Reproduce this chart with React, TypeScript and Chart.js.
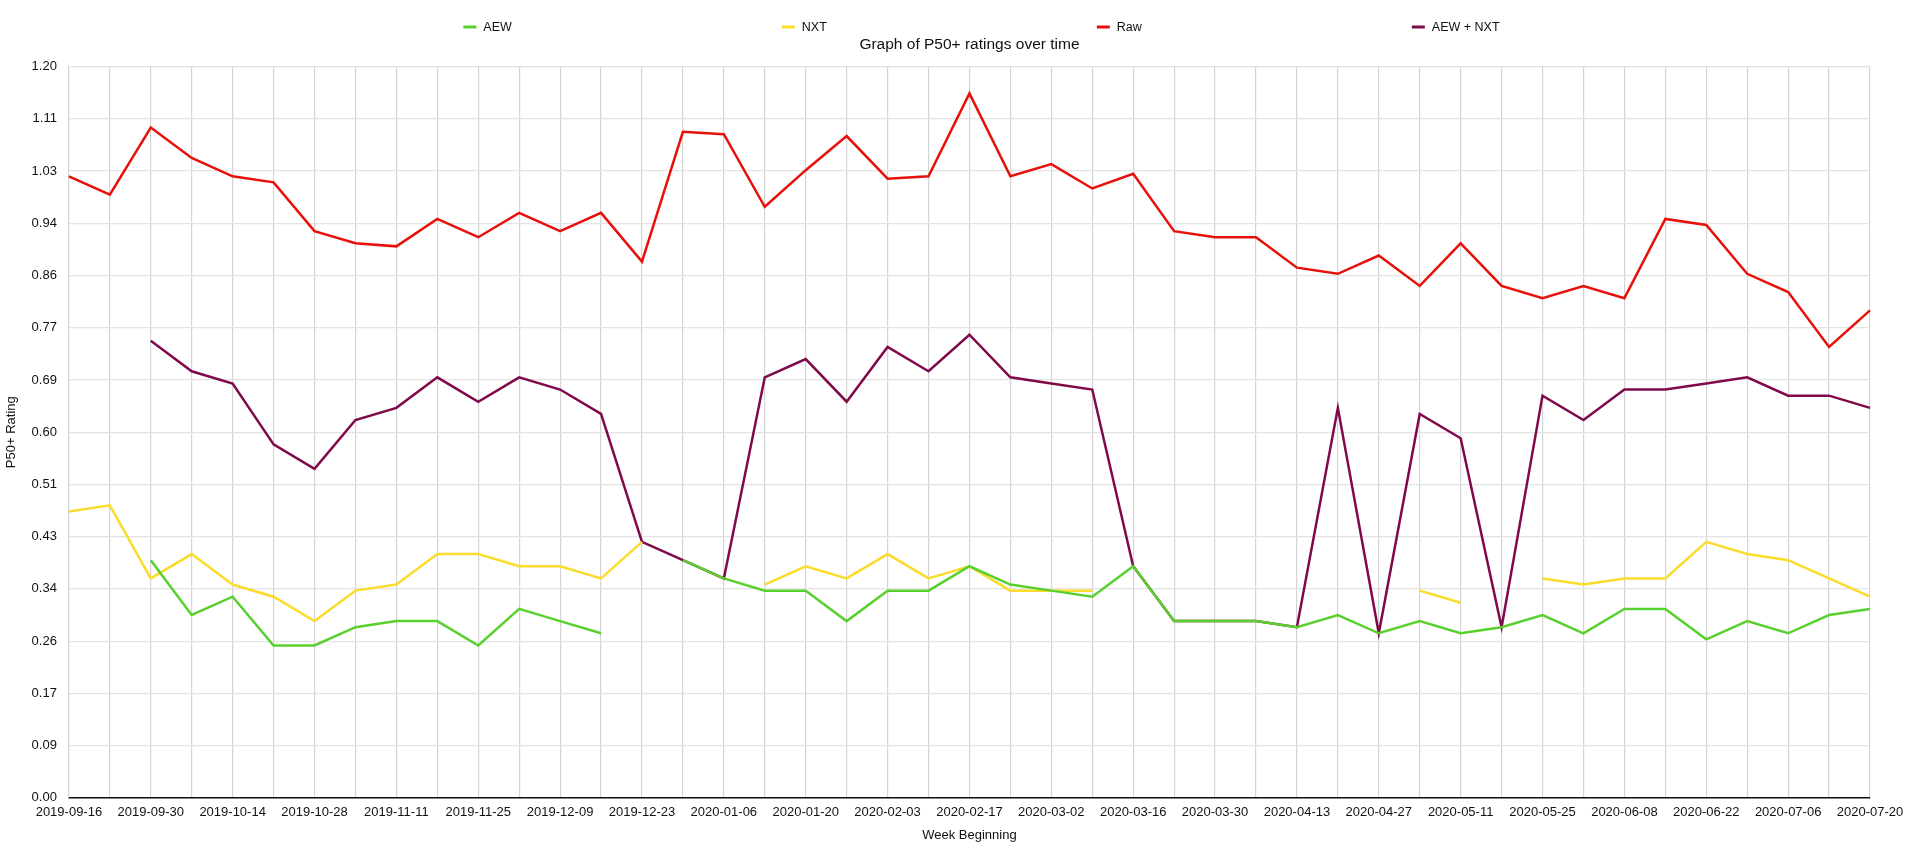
import { useEffect, useRef } from "react"
import { Chart, registerables } from "chart.js"
import type { Plugin } from "chart.js"

Chart.register(...registerables)

const FONT = "'Liberation Sans', Arial, Helvetica, sans-serif"

// weeks, 2019-09-16 .. 2020-07-20
const weeks = [
  "2019-09-16", "2019-09-23", "2019-09-30", "2019-10-07", "2019-10-14", "2019-10-21",
  "2019-10-28", "2019-11-04", "2019-11-11", "2019-11-18", "2019-11-25", "2019-12-02",
  "2019-12-09", "2019-12-16", "2019-12-23", "2019-12-30", "2020-01-06", "2020-01-13",
  "2020-01-20", "2020-01-27", "2020-02-03", "2020-02-10", "2020-02-17", "2020-02-24",
  "2020-03-02", "2020-03-09", "2020-03-16", "2020-03-23", "2020-03-30", "2020-04-06",
  "2020-04-13", "2020-04-20", "2020-04-27", "2020-05-04", "2020-05-11", "2020-05-18",
  "2020-05-25", "2020-06-01", "2020-06-08", "2020-06-15", "2020-06-22", "2020-06-29",
  "2020-07-06", "2020-07-13", "2020-07-20",
]

const aew = [
  null, null, 0.39, 0.30, 0.33, 0.25, 0.25, 0.28, 0.29, 0.29, 0.25, 0.31,
  0.29, 0.27, null, 0.39, 0.36, 0.34, 0.34, 0.29, 0.34, 0.34, 0.38, 0.35,
  0.34, 0.33, 0.38, 0.29, 0.29, 0.29, 0.28, 0.30, 0.27, 0.29, 0.27, 0.28,
  0.30, 0.27, 0.31, 0.31, 0.26, 0.29, 0.27, 0.30, 0.31,
]

const nxt = [
  0.47, 0.48, 0.36, 0.40, 0.35, 0.33, 0.29, 0.34, 0.35, 0.40, 0.40, 0.38,
  0.38, 0.36, 0.42, null, null, 0.35, 0.38, 0.36, 0.40, 0.36, 0.38, 0.34,
  0.34, 0.34, null, null, null, null, null, 0.34, null, 0.34, 0.32, null,
  0.36, 0.35, 0.36, 0.36, 0.42, 0.40, 0.39, 0.36, 0.33,
]

const raw = [
  1.02, 0.99, 1.10, 1.05, 1.02, 1.01, 0.93, 0.91, 0.905, 0.95, 0.92, 0.96,
  0.93, 0.96, 0.88, 1.093, 1.089, 0.97, 1.03, 1.086, 1.016, 1.02, 1.156, 1.02,
  1.04, 1.00, 1.024, 0.93, 0.92, 0.92, 0.87, 0.86, 0.89, 0.84, 0.91, 0.84,
  0.82, 0.84, 0.82, 0.95, 0.94, 0.86, 0.83, 0.74, 0.80,
]

const aewPlusNxt = [
  null, null, 0.75, 0.70, 0.68, 0.58, 0.54, 0.62, 0.64, 0.69, 0.65, 0.69,
  0.67, 0.63, 0.42, 0.39, 0.36, 0.69, 0.72, 0.65, 0.74, 0.70, 0.76, 0.69,
  0.68, 0.67, 0.38, 0.29, 0.29, 0.29, 0.28, 0.64, 0.27, 0.63, 0.59, 0.28,
  0.66, 0.62, 0.67, 0.67, 0.68, 0.69, 0.66, 0.66, 0.64,
]

const yMin = 0
const yMax = 1.2
const yTickCount = 15

// legend drawn as one wide row above the title
const legendRow: Plugin<"line"> = {
  id: "legendRow",
  afterDraw(chart) {
    const { ctx, chartArea } = chart
    const sets = chart.data.datasets
    const gap = 270
    ctx.save()
    ctx.font = `12.5px ${FONT}`
    ctx.textBaseline = "middle"
    ctx.textAlign = "left"
    const widths = sets.map((ds) => 13 + 7 + ctx.measureText(String(ds.label)).width)
    const total = widths.reduce((a, b) => a + b, 0) + gap * (sets.length - 1)
    let x = (chartArea.left + chartArea.right) / 2 + 12 - total / 2
    const y = 27
    sets.forEach((ds, i) => {
      ctx.fillStyle = ds.borderColor as string
      ctx.fillRect(x, y - 1.5, 13, 3)
      ctx.fillStyle = "#111"
      ctx.fillText(String(ds.label), x + 20, y + 1)
      x += widths[i] + gap
    })
    ctx.restore()
  },
}

function RatingsChart() {
  const chartRef = useRef<HTMLCanvasElement>(null)
  const chartInstance = useRef<Chart | null>(null)

  useEffect(() => {
    if (!chartRef.current) return
    if (chartInstance.current) chartInstance.current.destroy()

    const ctx = chartRef.current.getContext("2d")
    if (!ctx) return

    const line = (label: string, data: (number | null)[], color: string) => ({
      label,
      data,
      borderColor: color,
      backgroundColor: color,
      borderWidth: 2.5,
      pointRadius: 0,
      pointHoverRadius: 0,
      tension: 0,
      spanGaps: false,
    })

    chartInstance.current = new Chart(ctx, {
      type: "line",
      data: {
        labels: weeks,
        datasets: [
          line("AEW", aew, "#58d12e"),
          line("NXT", nxt, "#f9dc2c"),
          line("Raw", raw, "#e8100a"),
          line("AEW + NXT", aewPlusNxt, "#80094a"),
        ],
      },
      options: {
        animation: false,
        responsive: true,
        maintainAspectRatio: false,
        layout: {
          padding: { top: 25, left: 2, right: 50, bottom: 2 },
        },
        plugins: {
          legend: { display: false },
          tooltip: { enabled: false },
          title: {
            display: true,
            text: "Graph of P50+ ratings over time",
            fullSize: false,
            color: "#111",
            font: { family: FONT, size: 15.5, weight: "normal" },
            padding: { top: 10, bottom: 13 },
          },
        },
        scales: {
          x: {
            grid: { color: "#d4d4d4", lineWidth: 1.2, drawTicks: false },
            border: { color: "#111", width: 1.5 },
            ticks: {
              color: "#111",
              font: { family: FONT, size: 13 },
              padding: 7,
              autoSkip: false,
              maxRotation: 0,
              minRotation: 0,
              callback: (_v, i) => (i % 2 === 0 ? weeks[i] : ""),
            },
            title: {
              display: true,
              text: "Week Beginning",
              color: "#111",
              font: { family: FONT, size: 13 },
              padding: { top: 0, bottom: 3 },
            },
          },
          y: {
            min: yMin,
            max: yMax,
            grid: { color: "#e3e3e3", lineWidth: 1.2, drawTicks: false },
            border: { color: "#d4d4d4" },
            ticks: {
              count: yTickCount,
              color: "#111",
              font: { family: FONT, size: 13 },
              padding: 12,
              callback: (v) => Number(v).toFixed(2),
            },
            title: {
              display: true,
              text: "P50+ Rating",
              color: "#111",
              font: { family: FONT, size: 13 },
              padding: { top: 2, bottom: 0 },
            },
          },
        },
      },
      plugins: [legendRow],
    })

    return () => {
      if (chartInstance.current) {
        chartInstance.current.destroy()
        chartInstance.current = null
      }
    }
  }, [])

  return <canvas ref={chartRef} />
}

export default function App() {
  useEffect(() => {
    document.body.style.margin = "0"
  }, [])

  return (
    <div style={{ position: "relative", width: 1920, height: 848, background: "#fff" }}>
      <RatingsChart />
    </div>
  )
}
